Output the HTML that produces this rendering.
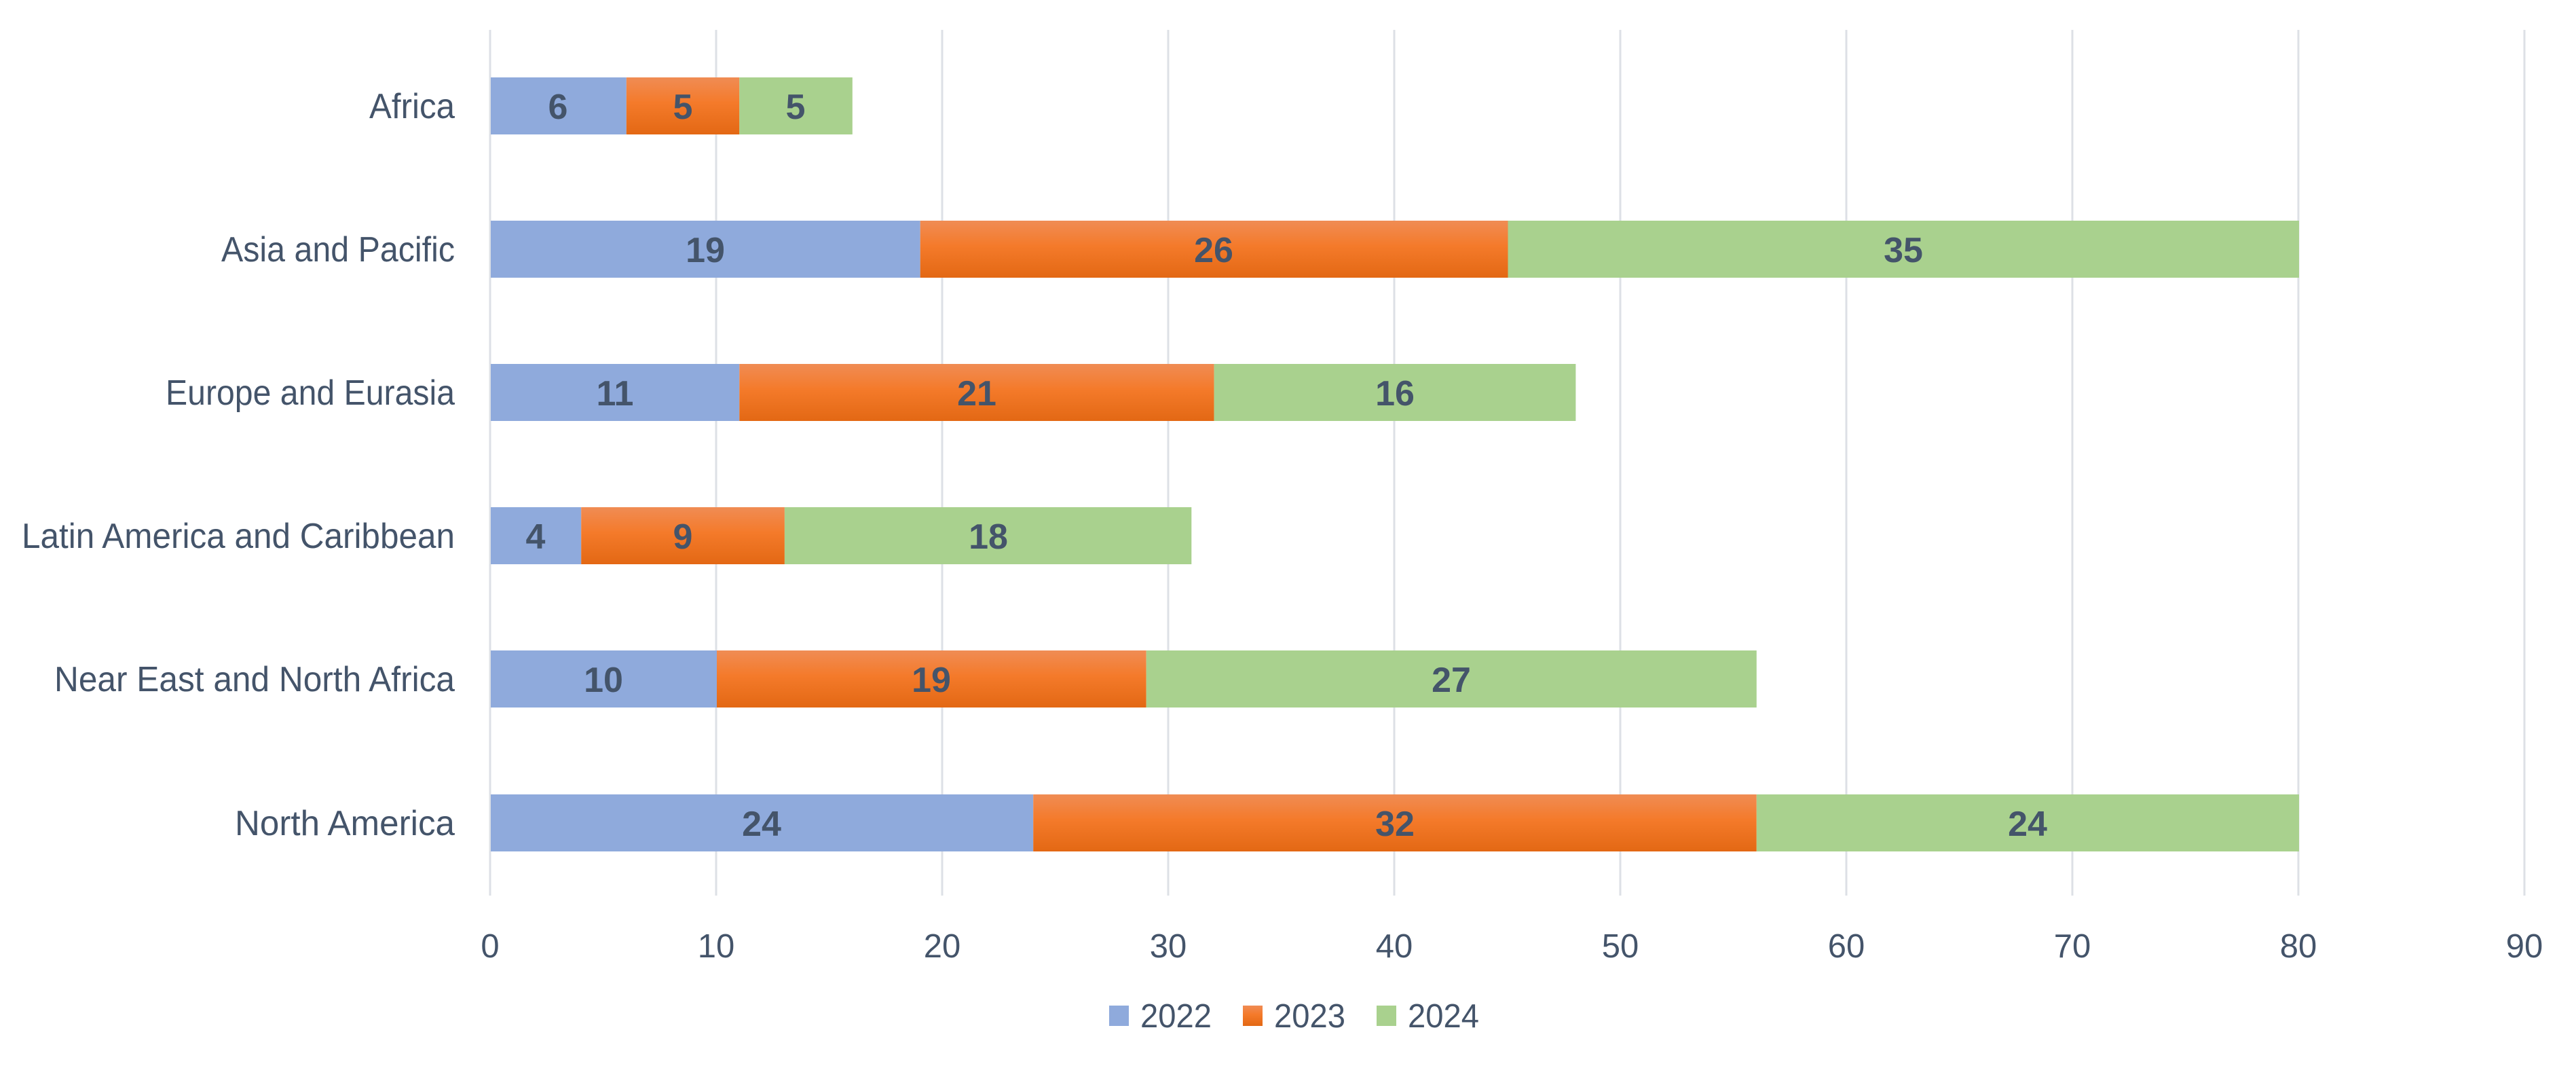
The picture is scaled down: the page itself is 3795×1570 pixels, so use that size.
<!DOCTYPE html>
<html><head><meta charset="utf-8"><style>
html,body{margin:0;padding:0;background:#fff;}
svg{display:block;}
text{font-family:"Liberation Sans",sans-serif;fill:#44546a;}
</style></head><body>
<svg width="3795" height="1570" viewBox="0 0 3795 1570" xmlns="http://www.w3.org/2000/svg">
<defs>
<linearGradient id="og" x1="0" y1="0" x2="0" y2="1">
<stop offset="0" stop-color="#f08c54"/><stop offset="0.45" stop-color="#f47a2a"/><stop offset="1" stop-color="#e36814"/>
</linearGradient>
</defs>
<g stroke="#dde0e6" stroke-width="3">
<line x1="722" y1="44" x2="722" y2="1319"/>
<line x1="1055" y1="44" x2="1055" y2="1319"/>
<line x1="1388" y1="44" x2="1388" y2="1319"/>
<line x1="1721" y1="44" x2="1721" y2="1319"/>
<line x1="2054" y1="44" x2="2054" y2="1319"/>
<line x1="2387" y1="44" x2="2387" y2="1319"/>
<line x1="2720" y1="44" x2="2720" y2="1319"/>
<line x1="3053" y1="44" x2="3053" y2="1319"/>
<line x1="3386" y1="44" x2="3386" y2="1319"/>
<line x1="3719" y1="44" x2="3719" y2="1319"/>
</g>
<g>
<rect x="723" y="114" width="199.8" height="84" fill="#8faadc"/>
<rect x="922.8" y="114" width="166.5" height="84" fill="url(#og)"/>
<rect x="1089.3" y="114" width="166.5" height="84" fill="#a9d18e"/>

<rect x="723" y="325" width="632.7" height="84" fill="#8faadc"/>
<rect x="1355.7" y="325" width="865.8" height="84" fill="url(#og)"/>
<rect x="2221.5" y="325" width="1165.5" height="84" fill="#a9d18e"/>

<rect x="723" y="536" width="366.3" height="84" fill="#8faadc"/>
<rect x="1089.3" y="536" width="699.3" height="84" fill="url(#og)"/>
<rect x="1788.6" y="536" width="532.8" height="84" fill="#a9d18e"/>

<rect x="723" y="747" width="133.2" height="84" fill="#8faadc"/>
<rect x="856.2" y="747" width="299.7" height="84" fill="url(#og)"/>
<rect x="1155.9" y="747" width="599.4" height="84" fill="#a9d18e"/>

<rect x="723" y="958" width="333" height="84" fill="#8faadc"/>
<rect x="1056" y="958" width="632.7" height="84" fill="url(#og)"/>
<rect x="1688.7" y="958" width="899.1" height="84" fill="#a9d18e"/>

<rect x="723" y="1170" width="799.2" height="84" fill="#8faadc"/>
<rect x="1522.2" y="1170" width="1065.6" height="84" fill="url(#og)"/>
<rect x="2587.8" y="1170" width="799.2" height="84" fill="#a9d18e"/>
</g>
<g font-weight="bold" font-size="52" text-anchor="middle">
<text x="822" y="175">6</text><text x="1006" y="175">5</text><text x="1172" y="175">5</text>
<text x="1039" y="386">19</text><text x="1788" y="386">26</text><text x="2804" y="386">35</text>
<text x="906" y="597">11</text><text x="1439" y="597">21</text><text x="2055" y="597">16</text>
<text x="789" y="808">4</text><text x="1006" y="808">9</text><text x="1456" y="808">18</text>
<text x="889" y="1019">10</text><text x="1372" y="1019">19</text><text x="2138" y="1019">27</text>
<text x="1122" y="1231">24</text><text x="2055" y="1231">32</text><text x="2987" y="1231">24</text>
</g>
<g font-size="52" text-anchor="end">
<text x="670" y="174" textLength="126" lengthAdjust="spacingAndGlyphs">Africa</text>
<text x="670" y="385" textLength="344" lengthAdjust="spacingAndGlyphs">Asia and Pacific</text>
<text x="670" y="596" textLength="426" lengthAdjust="spacingAndGlyphs">Europe and Eurasia</text>
<text x="670" y="807" textLength="638" lengthAdjust="spacingAndGlyphs">Latin America and Caribbean</text>
<text x="670" y="1018" textLength="590" lengthAdjust="spacingAndGlyphs">Near East and North Africa</text>
<text x="670" y="1230" textLength="324" lengthAdjust="spacingAndGlyphs">North America</text>
</g>
<g font-size="49" text-anchor="middle">
<text x="722" y="1410">0</text><text x="1055" y="1410">10</text><text x="1388" y="1410">20</text>
<text x="1721" y="1410">30</text><text x="2054" y="1410">40</text><text x="2387" y="1410">50</text>
<text x="2720" y="1410">60</text><text x="3053" y="1410">70</text><text x="3386" y="1410">80</text>
<text x="3719" y="1410">90</text>
</g>
<rect x="1634" y="1481" width="29" height="30" fill="#8faadc"/>
<rect x="1831" y="1481" width="29" height="30" fill="url(#og)"/>
<rect x="2028" y="1481" width="29" height="30" fill="#a9d18e"/>
<g font-size="49">
<text x="1680" y="1513" textLength="105" lengthAdjust="spacingAndGlyphs">2022</text>
<text x="1877" y="1513" textLength="105" lengthAdjust="spacingAndGlyphs">2023</text>
<text x="2074" y="1513" textLength="105" lengthAdjust="spacingAndGlyphs">2024</text>
</g>
</svg>
</body></html>
